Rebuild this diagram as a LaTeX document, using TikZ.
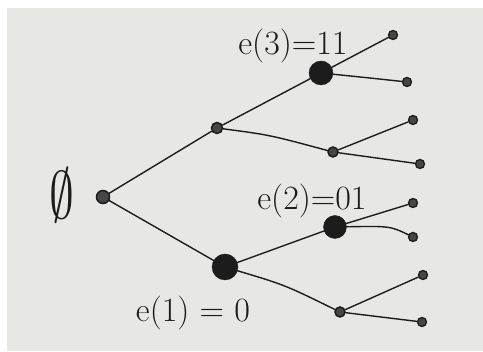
\documentclass[tikz,border=0pt]{standalone}
\usepackage{xcolor}
\usepackage{graphicx}

\definecolor{paper}{RGB}{231,231,229}
\definecolor{ink}{RGB}{28,28,28}
\definecolor{inkfill}{RGB}{70,70,70}

\begin{document}
\begin{tikzpicture}[
  x=1pt, y=-1pt,
  font=\fontsize{34}{38}\selectfont,
  edge line/.style = {draw=ink, line width=1.4pt, line cap=round},
  leaf dot/.style  = {circle, draw=ink, fill=inkfill, line width=1.3pt,
                      inner sep=0pt, minimum size=9pt},
  mid dot/.style   = {circle, draw=ink, fill=inkfill, line width=1.5pt,
                      inner sep=0pt, minimum size=11pt},
  big dot/.style   = {circle, draw=ink, fill=ink, inner sep=0pt,
                      minimum size=24pt},
  tag/.style       = {text=ink, inner sep=0pt},
]

% ── Paper ──────────────────────────────────────────────────────────────────
\useasboundingbox (0,0) rectangle (483,352);
\fill[white] (0,0) rectangle (483,352);
\fill[paper] (7,8) rectangle (483,351);

% ── Tree nodes ─────────────────────────────────────────────────────────────
% depth 0
\node[mid dot, minimum size=13pt] (root) at (103,197) {};
% depth 1
\node[mid dot] (n1) at (217,128) {};
\node[big dot, minimum size=26pt] (n0) at (225,267) {};
% depth 2
\node[big dot] (n11) at (321,73) {};
\node[mid dot, minimum size=10pt] (n10) at (333,152) {};
\node[big dot, minimum size=23pt] (n01) at (335,227) {};
\node[mid dot, minimum size=10pt] (n00) at (340,312) {};
% depth 3 (leaves)
\node[leaf dot] (l111) at (393,35)  {};
\node[leaf dot] (l110) at (407,82)  {};
\node[leaf dot] (l101) at (413,120) {};
\node[leaf dot] (l100) at (420,164) {};
\node[leaf dot] (l011) at (413,203) {};
\node[leaf dot] (l010) at (413,237) {};
\node[leaf dot] (l001) at (423,275) {};
\node[leaf dot] (l000) at (422,322) {};

% ── Edges ──────────────────────────────────────────────────────────────────
\draw[edge line] (root) -- (n1);
\draw[edge line] (root) -- (n0);
\draw[edge line] (n1) -- (n11);
\draw[edge line] (n1) .. controls (270,135) .. (n10);
\draw[edge line] (n0) -- (n01);
\draw[edge line] (n0) .. controls (285,285) .. (n00);
\draw[edge line] (n11) -- (l111);
\draw[edge line] (n11) .. controls (370,78) .. (l110);
\draw[edge line] (n10) -- (l101);
\draw[edge line] (n10) -- (l100);
\draw[edge line] (n01) -- (l011);
\draw[edge line] (n01) .. controls (390,226) .. (l010);
\draw[edge line] (n00) -- (l001);
\draw[edge line] (n00) -- (l000);

% ── Labels ─────────────────────────────────────────────────────────────────
\node[tag] (empty) at (62,195) {\scalebox{2}[2.7]{$\emptyset$}};
\node[tag] (e3) at (293,46)  {e(3)=11};
\node[tag] (e2) at (312,201) {e(2)=01};
\node[tag] (e1) at (193,313) {e(1) = 0};

\end{tikzpicture}
\end{document}
